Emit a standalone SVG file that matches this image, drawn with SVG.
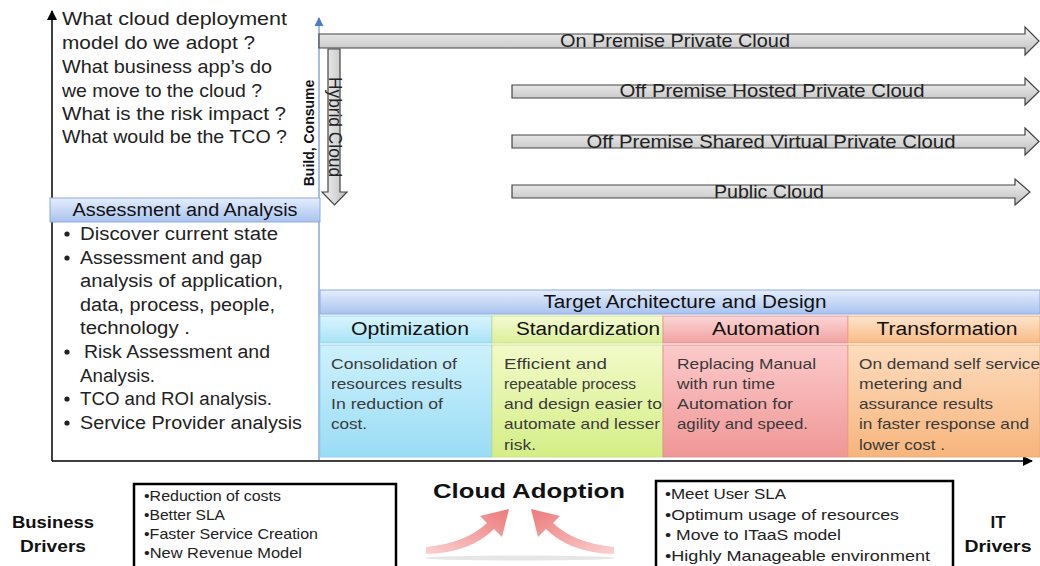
<svg xmlns="http://www.w3.org/2000/svg" width="1040" height="566" viewBox="0 0 1040 566">
<defs>
<linearGradient id="gGray" x1="0" y1="0" x2="0" y2="1"><stop offset="0" stop-color="#f4f4f4"/><stop offset="1" stop-color="#bdbdbd"/></linearGradient>
<linearGradient id="gGrayH" x1="0" y1="0" x2="1" y2="0"><stop offset="0" stop-color="#f4f4f4"/><stop offset="1" stop-color="#bdbdbd"/></linearGradient>
<linearGradient id="gBlue" x1="0" y1="0" x2="0" y2="1"><stop offset="0" stop-color="#e4edfc"/><stop offset="1" stop-color="#a9c3ef"/></linearGradient>
<linearGradient id="gCyanH" x1="0" y1="0" x2="0" y2="1"><stop offset="0" stop-color="#d9f5fd"/><stop offset="1" stop-color="#a9e3f6"/></linearGradient>
<linearGradient id="gCyanB" x1="0" y1="0" x2="0" y2="1"><stop offset="0" stop-color="#cdf1fc"/><stop offset="1" stop-color="#9adcf5"/></linearGradient>
<linearGradient id="gYelH" x1="0" y1="0" x2="0" y2="1"><stop offset="0" stop-color="#f4fbd2"/><stop offset="1" stop-color="#dcf09a"/></linearGradient>
<linearGradient id="gYelB" x1="0" y1="0" x2="0" y2="1"><stop offset="0" stop-color="#f2fac8"/><stop offset="1" stop-color="#d4ee86"/></linearGradient>
<linearGradient id="gRedH" x1="0" y1="0" x2="0" y2="1"><stop offset="0" stop-color="#fbd6d6"/><stop offset="1" stop-color="#f2a1a1"/></linearGradient>
<linearGradient id="gRedB" x1="0" y1="0" x2="0" y2="1"><stop offset="0" stop-color="#fccaca"/><stop offset="1" stop-color="#f09696"/></linearGradient>
<linearGradient id="gOrH" x1="0" y1="0" x2="0" y2="1"><stop offset="0" stop-color="#fde4cc"/><stop offset="1" stop-color="#f8bb85"/></linearGradient>
<linearGradient id="gOrB" x1="0" y1="0" x2="0" y2="1"><stop offset="0" stop-color="#fddcbe"/><stop offset="1" stop-color="#f7b57c"/></linearGradient>
<linearGradient id="gPink" x1="0" y1="1" x2="1" y2="0"><stop offset="0" stop-color="#fbd0d0"/><stop offset="1" stop-color="#ec7a7a"/></linearGradient>
<linearGradient id="gPink2" x1="1" y1="1" x2="0" y2="0"><stop offset="0" stop-color="#fbd0d0"/><stop offset="1" stop-color="#ec7a7a"/></linearGradient>
<marker id="mBlack" viewBox="0 0 10 10" refX="9" refY="5" markerWidth="10" markerHeight="10" markerUnits="userSpaceOnUse" orient="auto"><path d="M0,0 L10,5 L0,10 Z" fill="#000"/></marker>
<marker id="mBlue" viewBox="0 0 10 10" refX="9" refY="5" markerWidth="9" markerHeight="9" markerUnits="userSpaceOnUse" orient="auto"><path d="M0,0 L10,5 L0,10 Z" fill="#4a7ec8"/></marker>
</defs>
<style>
text{lengthAdjust:spacingAndGlyphs}
.q{font-family:"Liberation Sans",Arial,sans-serif;font-size:19px;fill:#222}
.b{font-family:"Liberation Sans",Arial,sans-serif;font-size:18px;fill:#222}
.hd{font-family:"Liberation Sans",Arial,sans-serif;font-size:18px;fill:#111;text-anchor:middle}
.bd{font-family:"Liberation Sans",Arial,sans-serif;font-size:15px;fill:#3a3a3a}
.ar{font-family:"Liberation Sans",Arial,sans-serif;font-size:19px;fill:#222;text-anchor:middle}
.sm{font-family:"Liberation Sans",Arial,sans-serif;font-size:14.5px;fill:#222}
.bold{font-family:"Liberation Sans",Arial,sans-serif;font-weight:bold;fill:#111;text-anchor:middle}
.arrow{fill:url(#gGray);stroke:#444;stroke-width:1.2}
</style>
<rect width="1040" height="566" fill="#fff"/>

<g id="connectors">
<line x1="52" y1="461" x2="52" y2="11" stroke="#000" stroke-width="1.5" marker-end="url(#mBlack)"/>
<line x1="52" y1="461" x2="1032" y2="461" stroke="#000" stroke-width="1.5" marker-end="url(#mBlack)"/>
<line x1="319" y1="460" x2="319" y2="18" stroke="#4a7ec8" stroke-width="1" marker-end="url(#mBlue)"/>
</g>

<g id="questions">
<text class="q" x="62" y="25" textLength="225" lengthAdjust="spacingAndGlyphs">What  cloud deployment</text>
<text class="q" x="62" y="49" textLength="193" lengthAdjust="spacingAndGlyphs">model do we adopt ?</text>
<text class="q" x="62" y="73" textLength="210" lengthAdjust="spacingAndGlyphs">What business app’s do</text>
<text class="q" x="62" y="97" textLength="200" lengthAdjust="spacingAndGlyphs">we move to the cloud ?</text>
<text class="q" x="62" y="120" textLength="224" lengthAdjust="spacingAndGlyphs">What is the risk impact ?</text>
<text class="q" x="62" y="143" textLength="225" lengthAdjust="spacingAndGlyphs">What would be the TCO ?</text>
</g>

<g id="build-consume">
<text class="bold" font-size="14" transform="translate(314,133) rotate(-90)">Build, Consume</text>
</g>

<g id="on-premise">
<polygon class="arrow" points="319,34 1025,34 1025,27 1039,41 1025,55 1025,48 319,48"/>
<text class="ar" x="675" y="47" textLength="230" lengthAdjust="spacingAndGlyphs">On Premise Private Cloud</text>
</g>
<g id="hybrid">
<polygon points="328,49 340,49 340,192 347,192 334.5,205 322,192 328,192" fill="url(#gGrayH)" stroke="#444" stroke-width="1.2"/>
<text class="ar" font-size="15" transform="translate(329,127) rotate(90)" textLength="100" lengthAdjust="spacingAndGlyphs">Hybrid Cloud</text>
</g>
<g id="off-hosted">
<polygon class="arrow" points="512,85 1025,85 1025,78 1039,91.5 1025,105 1025,98 512,98"/>
<text class="ar" x="772" y="97" textLength="305" lengthAdjust="spacingAndGlyphs">Off Premise Hosted  Private Cloud</text>
</g>
<g id="off-shared">
<polygon class="arrow" points="512,135 1025,135 1025,128 1039,141.5 1025,155 1025,148 512,148"/>
<text class="ar" x="771" y="148" textLength="369" lengthAdjust="spacingAndGlyphs">Off Premise Shared Virtual Private  Cloud</text>
</g>
<g id="public">
<polygon class="arrow" points="512,185 1015,185 1015,179 1030,192 1015,205 1015,198 512,198"/>
<text class="ar" x="769" y="198" textLength="110" lengthAdjust="spacingAndGlyphs">Public Cloud</text>
</g>

<g id="assessment">
<rect x="50" y="198" width="270" height="24" fill="url(#gBlue)" stroke="#8eaadb" stroke-width="1"/>
<text class="hd" x="185" y="216" textLength="225" lengthAdjust="spacingAndGlyphs">Assessment and Analysis</text>
<circle cx="67" cy="234" r="2.6" fill="#222"/><text class="b" x="80" y="240" textLength="198" lengthAdjust="spacingAndGlyphs">Discover current state</text>
<circle cx="67" cy="258" r="2.6" fill="#222"/><text class="b" x="80" y="264" textLength="182" lengthAdjust="spacingAndGlyphs">Assessment and gap</text>
<text class="b" x="80" y="287" textLength="203" lengthAdjust="spacingAndGlyphs">analysis of application,</text>
<text class="b" x="80" y="311" textLength="195" lengthAdjust="spacingAndGlyphs">data, process, people,</text>
<text class="b" x="80" y="334" textLength="110" lengthAdjust="spacingAndGlyphs">technology .</text>
<circle cx="67" cy="352" r="2.6" fill="#222"/><text class="b" x="84" y="358" textLength="186" lengthAdjust="spacingAndGlyphs">Risk Assessment and</text>
<text class="b" x="80" y="382" textLength="75" lengthAdjust="spacingAndGlyphs">Analysis.</text>
<circle cx="67" cy="399" r="2.6" fill="#222"/><text class="b" x="80" y="405" textLength="192" lengthAdjust="spacingAndGlyphs">TCO and ROI analysis.</text>
<circle cx="67" cy="423" r="2.6" fill="#222"/><text class="b" x="80" y="429" textLength="222" lengthAdjust="spacingAndGlyphs">Service Provider analysis</text>
</g>

<g id="target">
<rect x="320" y="290" width="720" height="24" fill="url(#gBlue)" stroke="#8eaadb" stroke-width="1"/>
<text class="hd" x="685" y="308" textLength="283" lengthAdjust="spacingAndGlyphs">Target Architecture and Design</text>
</g>

<g id="optimization">
<rect x="320" y="316" width="172" height="27" fill="url(#gCyanH)" stroke="#8ccfe8" stroke-width="0.8"/>
<text class="hd" x="410" y="335" textLength="118" lengthAdjust="spacingAndGlyphs">Optimization</text>
<rect x="320" y="345" width="172" height="112" fill="url(#gCyanB)" stroke="#8ccfe8" stroke-width="0.8"/>
<text class="bd" x="331" y="369" textLength="126" lengthAdjust="spacingAndGlyphs">Consolidation of</text>
<text class="bd" x="331" y="389" textLength="131" lengthAdjust="spacingAndGlyphs">resources results</text>
<text class="bd" x="331" y="409" textLength="112" lengthAdjust="spacingAndGlyphs">In reduction of</text>
<text class="bd" x="331" y="429" textLength="36" lengthAdjust="spacingAndGlyphs">cost.</text>
</g>
<g id="standardization">
<rect x="492" y="316" width="171" height="27" fill="url(#gYelH)" stroke="#c5dc7c" stroke-width="0.8"/>
<text class="hd" x="588" y="335" textLength="144" lengthAdjust="spacingAndGlyphs">Standardization</text>
<rect x="492" y="345" width="171" height="112" fill="url(#gYelB)" stroke="#c5dc7c" stroke-width="0.8"/>
<text class="bd" x="504" y="369" textLength="103" lengthAdjust="spacingAndGlyphs">Efficient  and</text>
<text class="bd" x="504" y="389" textLength="132" lengthAdjust="spacingAndGlyphs">repeatable process</text>
<text class="bd" x="504" y="409" textLength="158" lengthAdjust="spacingAndGlyphs">and  design easier to</text>
<text class="bd" x="504" y="429" textLength="156" lengthAdjust="spacingAndGlyphs">automate and lesser</text>
<text class="bd" x="504" y="450" textLength="32" lengthAdjust="spacingAndGlyphs">risk.</text>
</g>
<g id="automation">
<rect x="663" y="316" width="185" height="27" fill="url(#gRedH)" stroke="#e08c8c" stroke-width="0.8"/>
<text class="hd" x="766" y="335" textLength="108" lengthAdjust="spacingAndGlyphs">Automation</text>
<rect x="663" y="345" width="185" height="112" fill="url(#gRedB)" stroke="#e08c8c" stroke-width="0.8"/>
<text class="bd" x="677" y="369" textLength="139" lengthAdjust="spacingAndGlyphs">Replacing Manual</text>
<text class="bd" x="677" y="389" textLength="98" lengthAdjust="spacingAndGlyphs">with run time</text>
<text class="bd" x="677" y="409" textLength="116" lengthAdjust="spacingAndGlyphs">Automation for</text>
<text class="bd" x="677" y="429" textLength="131" lengthAdjust="spacingAndGlyphs">agility and speed.</text>
</g>
<g id="transformation">
<rect x="848" y="316" width="192" height="27" fill="url(#gOrH)" stroke="#e8a670" stroke-width="0.8"/>
<text class="hd" x="947" y="335" textLength="141" lengthAdjust="spacingAndGlyphs">Transformation</text>
<rect x="848" y="345" width="192" height="112" fill="url(#gOrB)" stroke="#e8a670" stroke-width="0.8"/>
<text class="bd" x="859" y="369" textLength="181" lengthAdjust="spacingAndGlyphs">On demand self service</text>
<text class="bd" x="859" y="389" textLength="103" lengthAdjust="spacingAndGlyphs">metering and</text>
<text class="bd" x="859" y="409" textLength="134" lengthAdjust="spacingAndGlyphs">assurance results</text>
<text class="bd" x="859" y="429" textLength="170" lengthAdjust="spacingAndGlyphs">in faster response and</text>
<text class="bd" x="859" y="450" textLength="86" lengthAdjust="spacingAndGlyphs">lower cost .</text>
</g>

<g id="business-drivers">
<text class="bold" font-size="17" x="53" y="528" textLength="82" lengthAdjust="spacingAndGlyphs">Business</text>
<text class="bold" font-size="17" x="53" y="552" textLength="66" lengthAdjust="spacingAndGlyphs">Drivers</text>
</g>
<g id="business-box">
<rect x="134" y="484" width="262" height="90" fill="#fff" stroke="#000" stroke-width="2.5"/>
<text class="sm" x="144" y="501" textLength="137" lengthAdjust="spacingAndGlyphs">•Reduction of costs</text>
<text class="sm" x="144" y="520" textLength="81" lengthAdjust="spacingAndGlyphs">•Better SLA</text>
<text class="sm" x="144" y="539" textLength="174" lengthAdjust="spacingAndGlyphs">•Faster  Service Creation</text>
<text class="sm" x="144" y="558" textLength="158" lengthAdjust="spacingAndGlyphs">•New Revenue Model</text>
</g>
<g id="cloud-adoption">
<text class="bold" font-size="21" x="529" y="498" textLength="192" lengthAdjust="spacingAndGlyphs">Cloud  Adoption</text>
<ellipse cx="520" cy="558" rx="95" ry="2.5" fill="#e6e6e6"/>
<path d="M426,554 Q470,553 494,529 L502,537 L509,509 L480,516 L487,523 Q466,543 426,547 Z" fill="url(#gPink)"/>
<path d="M614,554 Q570,553 546,529 L538,537 L531,509 L560,516 L553,523 Q574,543 614,547 Z" fill="url(#gPink2)"/>
</g>
<g id="it-box">
<rect x="656" y="481" width="297" height="93" fill="#fff" stroke="#000" stroke-width="2.5"/>
<text class="sm" font-size="15" x="665" y="499" textLength="121" lengthAdjust="spacingAndGlyphs">•Meet User SLA</text>
<text class="sm" font-size="15" x="665" y="520" textLength="234" lengthAdjust="spacingAndGlyphs">•Optimum usage of resources</text>
<text class="sm" font-size="15" x="665" y="540" textLength="176" lengthAdjust="spacingAndGlyphs">• Move to ITaaS model</text>
<text class="sm" font-size="15" x="665" y="561" textLength="265" lengthAdjust="spacingAndGlyphs">•Highly Manageable environment</text>
</g>
<g id="it-drivers">
<text class="bold" font-size="17" x="998" y="528">IT</text>
<text class="bold" font-size="17" x="998" y="552" textLength="67" lengthAdjust="spacingAndGlyphs">Drivers</text>
</g>
</svg>
